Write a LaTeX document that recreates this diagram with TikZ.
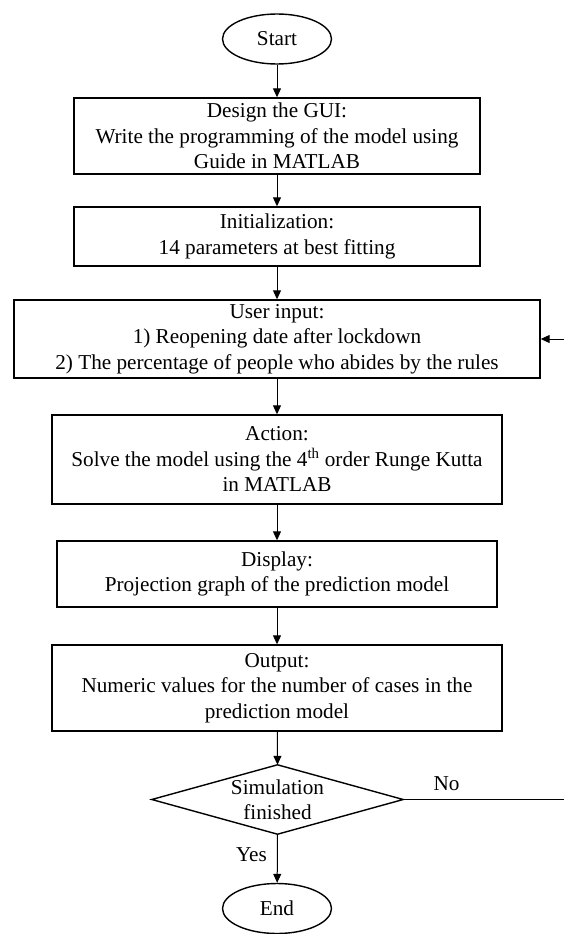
\documentclass[tikz,border=0pt]{standalone}
\usepackage{fontspec}
\setmainfont{Liberation Serif}
\usetikzlibrary{shapes.geometric,arrows.meta}
\tikzset{
  boxnode/.style={draw, line width=1.4pt, rectangle, inner sep=0pt, align=center,
    font=\fontsize{21.2}{25.5}\selectfont},
  termnode/.style={draw, line width=1.4pt, ellipse, inner sep=0pt,
    minimum width=109pt, minimum height=50pt, font=\fontsize{21.2}{25.5}\selectfont},
  decnode/.style={inner sep=0pt, align=center, minimum width=251pt, minimum height=69pt,
    font=\fontsize{21.2}{25.5}\selectfont},
  lbl/.style={inner sep=0pt, font=\fontsize{21.2}{25.5}\selectfont},
  arr/.style={line width=1pt, -{Triangle[length=9pt,width=8pt]}},
  plainline/.style={line width=1pt}
}
\begin{document}
\begin{tikzpicture}[x=1pt,y=-1pt]
\useasboundingbox (0,0) rectangle (564,934);
\fill[white] (0,0) rectangle (564,934);

\node[termnode] (start) at (277,39) {Start};
\node[boxnode, minimum width=406pt, minimum height=76pt] (gui) at (277,136)
  {Design the GUI:\\Write the programming of the model using\\Guide in MATLAB};
\node[boxnode, minimum width=406pt, minimum height=59pt] (init) at (277,236.5)
  {Initialization:\\14 parameters at best fitting};
\node[boxnode, minimum width=526pt, minimum height=78pt] (ui) at (277,339)
  {User input:\\1) Reopening date after lockdown\\2) The percentage of people who abides by the rules};
\node[boxnode, minimum width=450pt, minimum height=89pt] (act) at (277,459.5)
  {Action:\\Solve the model using the 4\textsuperscript{th} order Runge Kutta\\in MATLAB};
\node[boxnode, minimum width=440pt, minimum height=66pt] (disp) at (277,574)
  {Display:\\Projection graph of the prediction model};
\node[boxnode, minimum width=450pt, minimum height=86pt] (out) at (277,688)
  {Output:\\Numeric values for the number of cases in the\\prediction model};
\node[decnode] (sim) at (277.5,799.5) {Simulation\\finished};
\draw[line width=1.4pt] (sim.north) -- (sim.east) -- (sim.south) -- (sim.west) -- cycle;
\node[termnode] (end) at (277,908.5) {End};

\coordinate (fb) at (564,339);
\coordinate (noend) at (564,799.5);

\draw[arr] (start) -- (gui);
\draw[arr] (gui) -- (init);
\draw[arr] (init) -- (ui);
\draw[arr] (ui) -- (act);
\draw[arr] (act) -- (disp);
\draw[arr] (disp) -- (out);
\draw[arr] (out) -- (sim.north);
\draw[arr] (sim.south) -- node[lbl, pos=0.42, left=10pt] {Yes} (end);
\draw[plainline] (sim.east) -- node[lbl, pos=0.27, above=8pt] {No} (noend);
\draw[arr] (fb) -- (ui.east);
\end{tikzpicture}
\end{document}
